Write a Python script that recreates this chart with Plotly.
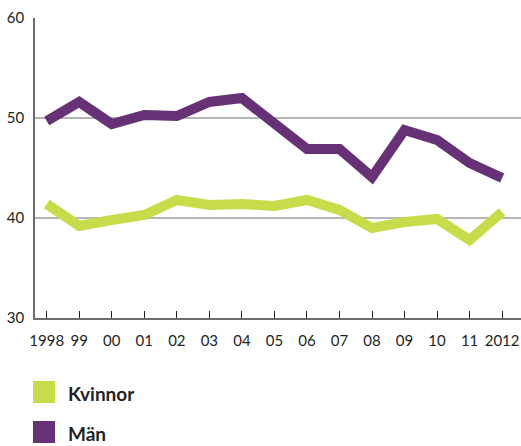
import plotly.graph_objects as go

years = list(range(1998, 2013))
tick_labels = ["1998", "99", "00", "01", "02", "03", "04", "05", "06", "07", "08", "09", "10", "11", "2012"]
series_names = ["Kvinnor", "Män"]
kvinnor = [41.4, 39.2, 39.8, 40.3, 41.8, 41.3, 41.4, 41.2, 41.8, 40.8, 39.0, 39.6, 39.9, 37.8, 40.6]
man = [49.7, 51.6, 49.4, 50.3, 50.2, 51.6, 52.0, 49.5, 46.9, 46.9, 44.1, 48.8, 47.8, 45.5, 44.0]
colors = ["#c8dc4b", "#663175"]

W, H = 521, 446
ML, MR, MT, MB = 35, 0, 18, 128
PW, PH = W - ML - MR, H - MT - MB

fig = go.Figure()
for name, vals, col in zip(series_names, [kvinnor, man], colors):
    fig.add_trace(go.Scatter(x=years, y=vals, mode="lines", name=name,
                             line=dict(color=col, width=10), showlegend=False))

def px_x(p):
    return (p - ML) / PW

def px_y(p):
    return (H - MB - p) / PH

shapes = []
annotations = []
for i, (name, col) in enumerate(zip(series_names, colors)):
    top = 381 + i * 40
    shapes.append(dict(type="rect", xref="paper", yref="paper",
                       x0=px_x(33), x1=px_x(55), y0=px_y(top + 22), y1=px_y(top),
                       fillcolor=col, line=dict(width=0)))
    annotations.append(dict(text="<b>" + name + "</b>", xref="paper", yref="paper",
                            x=px_x(66), y=px_y(top + 12), xanchor="left", yanchor="middle",
                            showarrow=False, font=dict(size=19, color="#231f20", family="Lato")))

fig.update_layout(
    width=W, height=H,
    margin=dict(l=ML, r=MR, t=MT, b=MB),
    plot_bgcolor="white", paper_bgcolor="white",
    font=dict(family="Lato", size=15, color="#231f20"),
    shapes=shapes, annotations=annotations,
    xaxis=dict(range=[1997.64, 2012.58], tickvals=years, ticktext=tick_labels,
               ticks="inside", ticklen=7, tickcolor="#231f20", tickwidth=1,
               showgrid=False, zeroline=False, showline=True, linecolor="#6d6e70", linewidth=1.5,
               ticklabelstandoff=8, tickfont=dict(size=15)),
    yaxis=dict(range=[30, 60], tickvals=[30, 40, 50, 60], ticks="",
               showgrid=True, gridcolor="#b5b5b5", gridwidth=1.5, zeroline=False,
               showline=True, linecolor="#6d6e70", linewidth=1.5,
               ticklabelstandoff=6, tickfont=dict(size=15)),
)

fig.write_html("out.html", config={"displayModeBar": False},
               post_script="document.body.style.margin='0';document.body.style.overflow='hidden';")
